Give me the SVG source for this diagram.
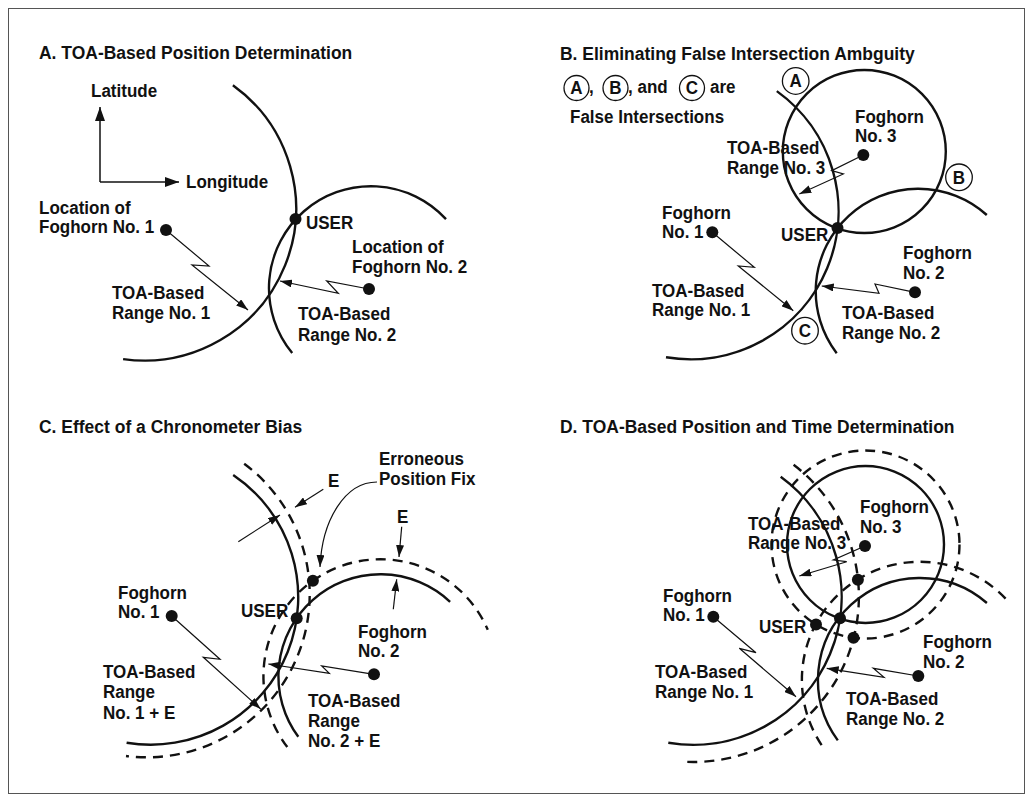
<svg xmlns="http://www.w3.org/2000/svg" width="1033" height="802" viewBox="0 0 1033 802">
<style>
text{font-family:"Liberation Sans",Arial,Helvetica,sans-serif;font-weight:bold;font-size:18.5px;fill:#111;transform-box:fill-box;transform-origin:0 0;transform:scaleX(0.92)}
.t{font-size:19px}
.lt{text-anchor:middle;transform-origin:50% 50%}
.arc{fill:none;stroke:#111;stroke-width:2.4}
.dash{fill:none;stroke:#111;stroke-width:2.4;stroke-dasharray:10 7}
.ar{fill:none;stroke:#111;stroke-width:1.2;marker-end:url(#ah)}
.ax{fill:none;stroke:#111;stroke-width:1.5;marker-end:url(#ahL)}
.dot{fill:#111}
.lc{fill:#fff;stroke:#111;stroke-width:1.3}
</style>
<defs>
<marker id="ah" markerUnits="userSpaceOnUse" markerWidth="12" markerHeight="8" refX="12" refY="4" orient="auto"><path d="M0,0 L12,4 L0,8 Z" fill="#111"/></marker>
<marker id="ahL" markerUnits="userSpaceOnUse" markerWidth="14" markerHeight="10" refX="14" refY="5" orient="auto"><path d="M0,0 L14,5 L0,10 Z" fill="#111"/></marker>
</defs>
<rect x="0" y="0" width="1033" height="802" fill="#fff"/>
<rect x="8.5" y="8.5" width="1016" height="785" fill="none" stroke="#555" stroke-width="1"/>

<!-- Panel A -->
<g id="panelA">
<text class="t" x="39" y="59">A. TOA-Based Position Determination</text>
<g id="A-ranges">
<path class="arc" d="M232.9,85.2 A152,152 0 0 1 123.1,359.1"/>
<path class="arc" d="M292.2,353 A102,102 0 0 1 446,219.1"/>
</g>
<g id="A-connectors">
<path class="ax" d="M100,182 L100,107"/>
<path class="ax" d="M100,182 L179,182"/>
<polyline class="ar" points="166,230 209,266 192,265 248,310"/>
<polyline class="ar" points="369,289 326.7,281 338.3,293.3 280,281"/>
</g>
<g id="A-axes"><text x="91" y="97">Latitude</text><text x="186" y="188">Longitude</text></g>
<g id="A-foghorn1"><circle class="dot" cx="166" cy="230" r="6"/><text x="39" y="214">Location of</text><text x="39" y="233">Foghorn No. 1</text></g>
<g id="A-user"><circle class="dot" cx="295.5" cy="219" r="6"/><text x="306" y="229">USER</text></g>
<g id="A-foghorn2"><circle class="dot" cx="369" cy="289" r="6"/><text x="352" y="253">Location of</text><text x="352" y="273">Foghorn No. 2</text></g>
<g id="A-range1"><text x="112" y="299">TOA-Based</text><text x="112" y="319">Range No. 1</text></g>
<g id="A-range2"><text x="298" y="320">TOA-Based</text><text x="298" y="341">Range No. 2</text></g>
</g>

<!-- Panel B -->
<g id="panelB">
<text class="t" x="560" y="60">B. Eliminating False Intersection Ambguity</text>
<g id="B-legend">
<circle class="lc" cx="576.5" cy="88" r="12.5"/><text class="lt" x="576.5" y="94.5">A</text>
<text x="589" y="93">,</text>
<circle class="lc" cx="615.5" cy="88" r="12.5"/><text class="lt" x="615.5" y="94.5">B</text>
<text x="628" y="93">, and</text>
<circle class="lc" cx="692" cy="88" r="12.5"/><text class="lt" x="692" y="94.5">C</text>
<text x="710" y="93">are</text>
<text x="570" y="123">False Intersections</text>
</g>
<g id="B-ranges">
<path class="arc" d="M776.8,91.1 A148,148 0 0 1 666,357.3"/>
<path class="arc" d="M836.7,353.3 A102.5,102.5 0 0 1 986.8,215"/>
<circle class="arc" cx="864.3" cy="151.5" r="81.5"/>
</g>
<g id="B-connectors">
<polyline class="ar" points="712.3,232.3 754.3,267.3 738.3,266 793.3,310.7"/>
<polyline class="ar" points="915,292.3 875,284 879,293.3 821.7,286"/>
<polyline class="ar" points="863.3,155 831.7,170.7 843.3,174 799.3,194"/>
</g>
<g id="B-falseA"><circle class="lc" cx="795.7" cy="81" r="13.3"/><text class="lt" x="795.7" y="87.5">A</text></g>
<g id="B-falseB"><circle class="lc" cx="959" cy="177.3" r="13.3"/><text class="lt" x="959" y="183.8">B</text></g>
<g id="B-falseC"><circle class="lc" cx="805" cy="330.7" r="13.3"/><text class="lt" x="805" y="337.2">C</text></g>
<g id="B-foghorn3"><circle class="dot" cx="863.3" cy="155" r="6"/><text x="855" y="123">Foghorn</text><text x="855" y="142">No. 3</text></g>
<g id="B-range3"><text x="727" y="154">TOA-Based</text><text x="727" y="174">Range No. 3</text></g>
<g id="B-foghorn1"><circle class="dot" cx="712.3" cy="232.3" r="6"/><text x="662" y="219">Foghorn</text><text x="662" y="238">No. 1</text></g>
<g id="B-user"><circle class="dot" cx="837.5" cy="228" r="6"/><text x="781" y="241">USER</text></g>
<g id="B-foghorn2"><circle class="dot" cx="915" cy="292.3" r="6"/><text x="903" y="259">Foghorn</text><text x="903" y="279">No. 2</text></g>
<g id="B-range1"><text x="652" y="297">TOA-Based</text><text x="652" y="316">Range No. 1</text></g>
<g id="B-range2"><text x="842" y="319">TOA-Based</text><text x="842" y="339">Range No. 2</text></g>
</g>

<!-- Panel C -->
<g id="panelC">
<text class="t" x="39" y="433">C. Effect of a Chronometer Bias</text>
<g id="C-ranges">
<path class="arc" d="M233.2,474.9 A147.5,147.5 0 0 1 126.6,742.7"/>
<path class="dash" d="M244.2,463.7 A163,163 0 0 1 126,756"/>
<path class="arc" d="M298.3,736.8 A102,102 0 0 1 450.1,601.8"/>
<path class="dash" d="M287.3,747.1 A117,117 0 1 1 487.8,629.8"/>
</g>
<g id="C-connectors">
<polyline class="ar" points="171.7,616 220,659.3 203.3,657.3 260.7,709"/>
<polyline class="ar" points="374,674.3 321.7,666 329.3,673.3 268.3,664"/>
<line class="ar" x1="238.3" y1="541.7" x2="280" y2="515"/>
<line class="ar" x1="323.3" y1="489.3" x2="295" y2="507.3"/>
<line class="ar" x1="401.7" y1="526.7" x2="399" y2="557"/>
<line class="ar" x1="393.3" y1="609.3" x2="396.7" y2="579.3"/>
<path class="ar" d="M377,482 C345,482 322,520 320,567"/>
</g>
<g id="C-E1"><text x="328" y="487">E</text></g>
<g id="C-E2"><text x="397" y="523">E</text></g>
<g id="C-fix"><circle class="dot" cx="312.9" cy="580.8" r="6"/><text x="379" y="465">Erroneous</text><text x="379" y="485">Position Fix</text></g>
<g id="C-foghorn1"><circle class="dot" cx="171.7" cy="616" r="6"/><text x="118" y="599">Foghorn</text><text x="118" y="618">No. 1</text></g>
<g id="C-user"><circle class="dot" cx="296.7" cy="618.3" r="6"/><text x="241" y="617">USER</text></g>
<g id="C-foghorn2"><circle class="dot" cx="374" cy="674.3" r="6"/><text x="358" y="638">Foghorn</text><text x="358" y="657">No. 2</text></g>
<g id="C-range1"><text x="103" y="678">TOA-Based</text><text x="103" y="698">Range</text><text x="103" y="719">No. 1 + E</text></g>
<g id="C-range2"><text x="308" y="707">TOA-Based</text><text x="308" y="727">Range</text><text x="308" y="747">No. 2 + E</text></g>
</g>

<!-- Panel D -->
<g id="panelD">
<text class="t" x="560" y="433">D. TOA-Based Position and Time Determination</text>
<g id="D-ranges">
<path class="arc" d="M780.7,476.7 A148.3,148.3 0 0 1 668.3,742.7"/>
<path class="dash" d="M793.6,464.8 A165.5,165.5 0 0 1 681.7,761.6"/>
<path class="arc" d="M837.8,740.4 A102,102 0 0 1 986.9,603"/>
<path class="dash" d="M821.6,745.1 A118,118 0 0 1 1009.9,603.5"/>
<circle class="arc" cx="865.5" cy="544.5" r="78.5"/>
<circle class="dash" cx="865.5" cy="544.5" r="94"/>
</g>
<g id="D-connectors">
<polyline class="ar" points="713.3,616.7 756,652.7 739.3,648.3 796,696.7"/>
<polyline class="ar" points="918.3,676 873.3,668.3 884,677.3 826.7,668.3"/>
<polyline class="ar" points="865,546 833.3,560 846.7,561.7 799.3,576"/>
</g>
<g id="D-foghorn3"><circle class="dot" cx="865" cy="546" r="6"/><text x="860" y="513">Foghorn</text><text x="860" y="533">No. 3</text></g>
<g id="D-range3"><text x="748" y="530">TOA-Based</text><text x="748" y="549">Range No. 3</text></g>
<g id="D-fix12"><circle class="dot" cx="857.9" cy="579.7" r="6"/></g>
<g id="D-fix23"><circle class="dot" cx="816" cy="624.4" r="6"/></g>
<g id="D-fix13"><circle class="dot" cx="853.5" cy="637.7" r="6"/></g>
<g id="D-user"><circle class="dot" cx="840" cy="618.3" r="6"/><text x="759" y="633">USER</text></g>
<g id="D-foghorn1"><circle class="dot" cx="713.3" cy="616.7" r="6"/><text x="663" y="602">Foghorn</text><text x="663" y="621">No. 1</text></g>
<g id="D-foghorn2"><circle class="dot" cx="918.3" cy="676" r="6"/><text x="923" y="648">Foghorn</text><text x="923" y="668">No. 2</text></g>
<g id="D-range1"><text x="655" y="678">TOA-Based</text><text x="655" y="698">Range No. 1</text></g>
<g id="D-range2"><text x="846" y="705">TOA-Based</text><text x="846" y="725">Range No. 2</text></g>
</g>
</svg>
